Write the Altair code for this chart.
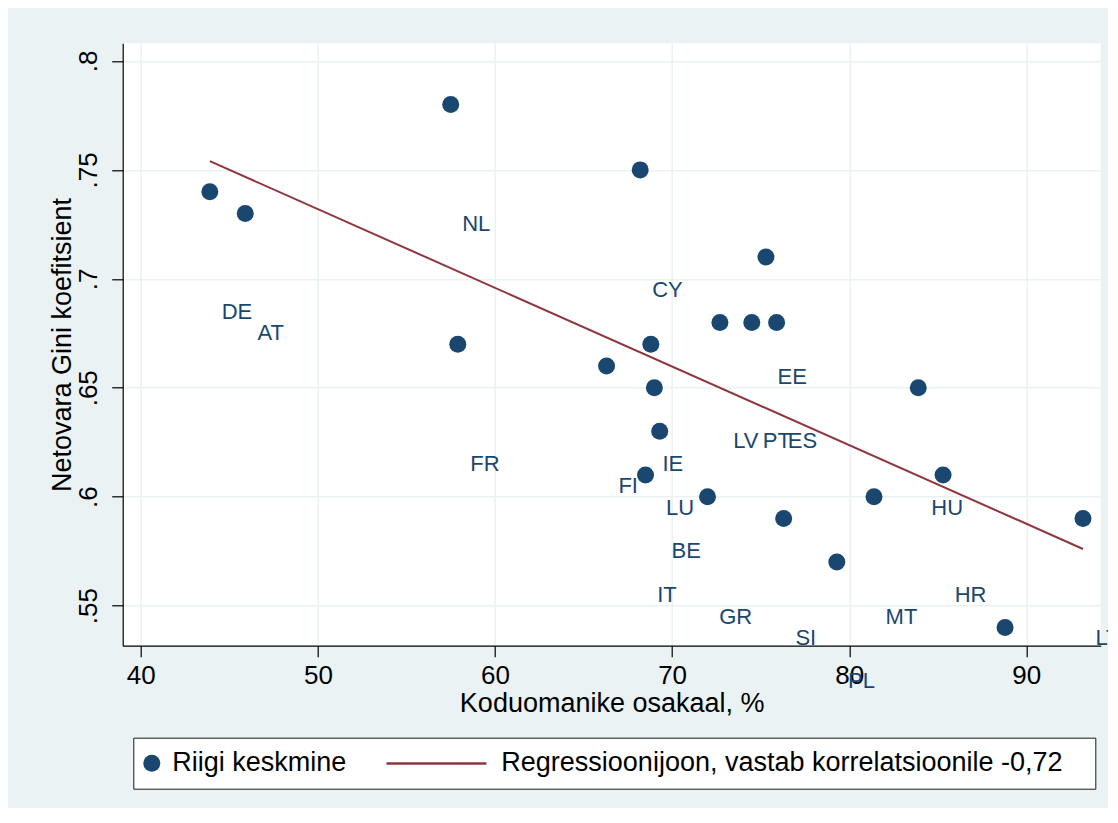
import altair as alt
import pandas as pd

# ---- data ----
point_x = [43.9, 45.9, 57.5, 57.9, 66.3, 68.2, 68.8, 69.0, 69.3, 68.5, 72.0,
           72.7, 74.5, 75.9, 75.3, 76.3, 79.3, 81.4, 83.9, 85.3, 88.8, 93.2]
point_y = [0.74, 0.73, 0.78, 0.67, 0.66, 0.75, 0.67, 0.65, 0.63, 0.61, 0.60,
           0.68, 0.68, 0.68, 0.71, 0.59, 0.57, 0.60, 0.65, 0.61, 0.54, 0.59]

label_text = ["NL", "DE", "AT", "CY", "EE", "LV", "PT", "ES", "FR", "IE", "FI",
              "LU", "HU", "BE", "IT", "HR", "GR", "MT", "SI", "LT", "PL"]
label_x = [58.94, 45.43, 47.34, 69.74, 76.78, 74.16, 75.91, 77.36, 59.43, 70.04, 67.52,
           70.45, 85.53, 70.80, 69.71, 86.85, 73.59, 82.95, 77.55, 94.58, 80.69]
label_y = [0.7255, 0.6853, 0.6758, 0.6954, 0.6553, 0.6258, 0.6258, 0.6258, 0.6155, 0.6156, 0.6054,
           0.5952, 0.5952, 0.5756, 0.5555, 0.5555, 0.5452, 0.5452, 0.5356, 0.5356, 0.5159]

reg_x = [43.9, 93.2]
reg_y = [0.754, 0.576]

x_ticks = [40, 50, 60, 70, 80, 90]
y_ticks = [0.55, 0.60, 0.65, 0.70, 0.75, 0.80]

SERIES_POINTS = "Riigi keskmine"
SERIES_LINE = "Regressioonijoon, vastab korrelatsioonile -0,72"

# ---- styles ----
NAVY = "#1a476f"
MAROON = "#90353b"
BG = "#eaf2f3"
FONT = "Liberation Sans"
LINE_PATH = "M-11.1,0L0.66,0"

x_scale = alt.Scale(domain=[38.98, 94.2], nice=False, zero=False)
y_scale = alt.Scale(domain=[0.5316, 0.8081], nice=False, zero=False)

x_axis = alt.Axis(values=x_ticks, title="Koduomanike osakaal, %", grid=True,
                  gridColor=BG, gridWidth=1.5, tickSize=11, tickColor="black",
                  tickWidth=1.2, domainColor="black", domainWidth=1.2,
                  labelFont=FONT, labelFontSize=26, labelColor="black",
                  labelPadding=5.5, labelFlush=False,
                  titleFont=FONT, titleFontSize=27, titleFontWeight="normal",
                  titleColor="black", titleBaseline="alphabetic", titleY=65.8)
y_axis = alt.Axis(values=y_ticks, title="Netovara Gini koefitsient", grid=True,
                  gridColor=BG, gridWidth=1.5, tickSize=11, tickColor="black",
                  tickWidth=1.2, domainColor="black", domainWidth=1.2,
                  labelFont=FONT, labelFontSize=26, labelColor="black",
                  labelExpr="substring(format(datum.value, '.2~f'), 1)",
                  labelAngle=-90, labelAlign="center", labelBaseline="alphabetic",
                  labelPadding=15.3, labelFlush=False,
                  titleFont=FONT, titleFontSize=27, titleFontWeight="normal",
                  titleColor="black", titleAngle=270, titleAlign="center",
                  titleBaseline="alphabetic", titleX=-52.7, titleY=301.2)

x_enc = alt.X("x:Q", scale=x_scale, axis=x_axis)
y_enc = alt.Y("y:Q", scale=y_scale, axis=y_axis)

# a blank (non-whitespace) glyph after the long entry widens the box on the right
legend_label_expr = "length(datum.label) > 20 ? datum.label + '\u2800' : datum.label"

legend = alt.Legend(orient="none", legendX=10.6, legendY=694.4,
                    direction="horizontal", title=None,
                    fillColor="white", strokeColor="#1a1a1a", padding=12,
                    labelFont=FONT, labelFontSize=27, labelColor="black",
                    labelLimit=2000, labelOffset=7, symbolSize=289,
                    symbolStrokeWidth=2.5, columnPadding=34, symbolOffset=-7,
                    labelExpr=legend_label_expr)

series_domain = [SERIES_POINTS, SERIES_LINE]

pts_df = pd.DataFrame({"x": point_x, "y": point_y, "series": SERIES_POINTS})
lab_df = pd.DataFrame({"x": label_x, "y": label_y, "code": label_text})
reg_df = pd.DataFrame({"x": reg_x, "y": reg_y})

points = alt.Chart(pts_df).mark_point(filled=True, size=289, opacity=1).encode(
    x=x_enc, y=y_enc,
    fill=alt.Fill("series:N", scale=alt.Scale(domain=series_domain, range=[NAVY, "transparent"]), legend=legend),
    stroke=alt.Stroke("series:N", scale=alt.Scale(domain=series_domain, range=["transparent", MAROON]), legend=legend),
    shape=alt.Shape("series:N", scale=alt.Scale(domain=series_domain, range=["circle", LINE_PATH]), legend=legend),
)

reg_line = alt.Chart(reg_df).mark_line(color=MAROON, strokeWidth=2).encode(x=x_enc, y=y_enc)

labels = alt.Chart(lab_df).mark_text(font=FONT, fontSize=22, color=NAVY,
                                      align="center", baseline="middle", dy=1).encode(
    x=x_enc, y=y_enc, text="code:N")

chart = alt.layer(points, reg_line, labels).properties(
    width=978, height=602.4,
    autosize=alt.AutoSizeParams(type="none"),
    padding={"left": 114.7, "top": 35.3, "right": 7.3, "bottom": 162.3},
    background=BG,
).configure_view(stroke=None, fill="white")

chart.save("out.html", embed_options={"renderer": "svg", "actions": False})
